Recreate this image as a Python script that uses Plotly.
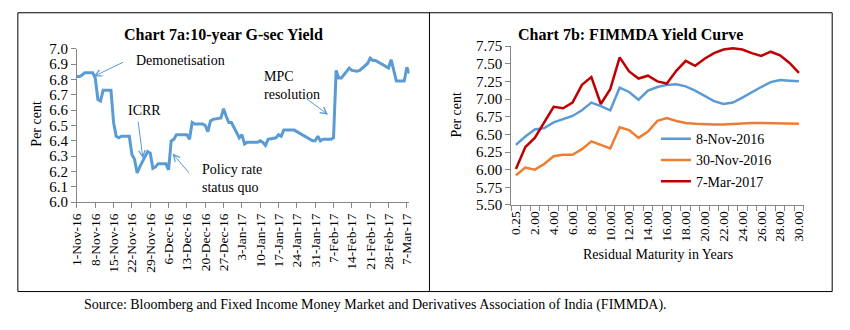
import plotly.graph_objects as go

W, H = 850, 330

# ---------------- Chart 7a data: 10-year G-sec yield (per cent) ----------------
gsec_dates = [
    "2016-11-01", "2016-11-02", "2016-11-03", "2016-11-04", "2016-11-07", "2016-11-08",
    "2016-11-09", "2016-11-10", "2016-11-11", "2016-11-14", "2016-11-15", "2016-11-16",
    "2016-11-17", "2016-11-18", "2016-11-21", "2016-11-22", "2016-11-23", "2016-11-24",
    "2016-11-25", "2016-11-28", "2016-11-29", "2016-11-30", "2016-12-01", "2016-12-02",
    "2016-12-05", "2016-12-06", "2016-12-07", "2016-12-08", "2016-12-09", "2016-12-12",
    "2016-12-13", "2016-12-14", "2016-12-15", "2016-12-16", "2016-12-19", "2016-12-20",
    "2016-12-21", "2016-12-22", "2016-12-23", "2016-12-26", "2016-12-27", "2016-12-28",
    "2016-12-29", "2016-12-30", "2017-01-02", "2017-01-03", "2017-01-04", "2017-01-05",
    "2017-01-06", "2017-01-09", "2017-01-10", "2017-01-11", "2017-01-12", "2017-01-13",
    "2017-01-16", "2017-01-17", "2017-01-18", "2017-01-19", "2017-01-20", "2017-01-23",
    "2017-01-24", "2017-01-25", "2017-01-27", "2017-01-30", "2017-01-31", "2017-02-01",
    "2017-02-02", "2017-02-03", "2017-02-06", "2017-02-07", "2017-02-08", "2017-02-09",
    "2017-02-10", "2017-02-13", "2017-02-14", "2017-02-15", "2017-02-16", "2017-02-17",
    "2017-02-20", "2017-02-21", "2017-02-22", "2017-02-23", "2017-02-27", "2017-02-28",
    "2017-03-01", "2017-03-02", "2017-03-03", "2017-03-06", "2017-03-07", "2017-03-08",
]
gsec_yield = [
    6.82, 6.82, 6.83, 6.845, 6.845, 6.81,
    6.67, 6.66, 6.73, 6.73, 6.52, 6.43,
    6.42, 6.43, 6.43, 6.31, 6.28, 6.19,
    6.23, 6.33, 6.32, 6.22, 6.23, 6.25,
    6.25, 6.21, 6.40, 6.41, 6.44, 6.44,
    6.44, 6.41, 6.52, 6.51, 6.51, 6.50,
    6.46, 6.53, 6.54, 6.55, 6.61, 6.56,
    6.52, 6.52, 6.42, 6.44, 6.38, 6.39,
    6.39, 6.39, 6.40, 6.39, 6.37, 6.41,
    6.42, 6.44, 6.43, 6.47, 6.47, 6.47,
    6.46, 6.45, 6.43, 6.40, 6.40, 6.43,
    6.40, 6.41, 6.41, 6.42, 6.86, 6.81,
    6.81, 6.875, 6.86, 6.855, 6.855, 6.86,
    6.905, 6.94, 6.925, 6.925, 6.885, 6.875,
    6.93, 6.86, 6.79, 6.79, 6.88, 6.84,
]
gsec_tick_dates = [
    "2016-11-01", "2016-11-08", "2016-11-15", "2016-11-22", "2016-11-29", "2016-12-06",
    "2016-12-13", "2016-12-20", "2016-12-27", "2017-01-03", "2017-01-10", "2017-01-17",
    "2017-01-24", "2017-01-31", "2017-02-07", "2017-02-14", "2017-02-21", "2017-02-28",
    "2017-03-07",
]
gsec_y_ticks = [6.0, 6.1, 6.2, 6.3, 6.4, 6.5, 6.6, 6.7, 6.8, 6.9, 7.0]

# ---------------- Chart 7b data: FIMMDA yield curve (per cent) ----------------
maturity_labels = ["0.25"] + ["%d.00" % m for m in range(1, 31)]
curve_names = ["8-Nov-2016", "30-Nov-2016", "7-Mar-2017"]
curve_8nov2016 = [
    6.35, 6.47, 6.57, 6.59, 6.67, 6.72, 6.76, 6.84, 6.95, 6.90, 6.84,
    7.16, 7.10, 6.99, 7.12, 7.17, 7.20, 7.21, 7.18, 7.12, 7.04,
    6.97, 6.93, 6.95, 7.02, 7.10, 7.17, 7.24, 7.27, 7.26, 7.25,
]
curve_30nov2016 = [
    5.92, 6.03, 6.00, 6.08, 6.19, 6.21, 6.21, 6.29, 6.40, 6.35, 6.30,
    6.60, 6.56, 6.45, 6.54, 6.69, 6.73, 6.69, 6.66, 6.65, 6.64,
    6.64, 6.64, 6.65, 6.65, 6.66, 6.66, 6.66, 6.66, 6.65, 6.65,
]
curve_7mar2017 = [
    6.01, 6.32, 6.45, 6.67, 6.89, 6.87, 6.95, 7.20, 7.31, 6.93, 7.14,
    7.59, 7.39, 7.29, 7.33, 7.25, 7.22, 7.40, 7.54, 7.47, 7.57,
    7.65, 7.70, 7.72, 7.70, 7.65, 7.61, 7.67, 7.62, 7.51, 7.37,
]
curve_y_ticks = [5.50, 5.75, 6.00, 6.25, 6.50, 6.75, 7.00, 7.25, 7.50, 7.75]

# ---------------- styling ----------------
FONT = "Liberation Serif"
BLUE = "#5B9BD5"
ORANGE = "#ED7D31"
RED = "#C00000"
AXIS = "#868686"


def px(x):
    return x / W


def py(y):
    return 1 - y / H


fig = go.Figure()

fig.add_trace(go.Scatter(
    x=gsec_dates, y=gsec_yield, mode="lines", xaxis="x", yaxis="y",
    line=dict(color=BLUE, width=3), showlegend=False, name="10-year G-sec",
))

idx = list(range(len(maturity_labels)))
for name, vals, col in zip(curve_names, [curve_8nov2016, curve_30nov2016, curve_7mar2017],
                           [BLUE, ORANGE, RED]):
    fig.add_trace(go.Scatter(
        x=idx, y=vals, mode="lines", xaxis="x2", yaxis="y2", name=name,
        line=dict(color=col, width=2.5),
    ))

axis_common = dict(
    showline=True, linecolor=AXIS, linewidth=1, showgrid=False, zeroline=False,
    ticks="outside", ticklen=5, tickcolor=AXIS, tickwidth=1,
)
xtick_font = dict(family=FONT, size=13.5, color="black")
ytick_font = dict(family=FONT, size=15, color="black")

fig.update_layout(
    width=W, height=H, margin=dict(l=0, r=0, t=0, b=0),
    paper_bgcolor="white", plot_bgcolor="white",
    font=dict(family=FONT, size=13, color="black"),
    xaxis=dict(
        domain=[px(70), px(407.7)], type="date",
        range=["2016-11-01", "2017-03-08"],
        tickmode="array", tickvals=gsec_tick_dates, tickformat="%-d-%b-%y",
        tickangle=-90, anchor="y", tickfont=xtick_font, **axis_common,
    ),
    yaxis=dict(
        domain=[py(204), py(43)], range=[6.0, 7.0],
        tickmode="array", tickvals=gsec_y_ticks,
        ticktext=["%.1f" % v for v in gsec_y_ticks], anchor="x",
        tickfont=ytick_font, **axis_common,
    ),
    xaxis2=dict(
        domain=[px(511), px(808)], range=[-0.5, len(maturity_labels) - 0.5],
        tickmode="array", tickvals=idx[::2], ticktext=maturity_labels[::2],
        tickangle=-90, anchor="y2", tickfont=xtick_font,
        minor=dict(tickmode="array", tickvals=[i - 0.5 for i in range(len(maturity_labels) + 1)],
                   ticks="outside", ticklen=5, tickcolor=AXIS, tickwidth=1, showgrid=False),
        **{**axis_common, "ticks": "outside", "ticklen": 0},
    ),
    yaxis2=dict(
        domain=[py(207), py(40)], range=[5.5, 7.75],
        tickmode="array", tickvals=curve_y_ticks,
        ticktext=["%.2f" % v for v in curve_y_ticks], anchor="x2",
        tickfont=ytick_font, **axis_common,
    ),
    legend=dict(
        x=px(658), y=py(121), xanchor="left", yanchor="top",
        bgcolor="rgba(0,0,0,0)", font=dict(family=FONT, size=14, color="black"),
        tracegroupgap=0, itemwidth=30,
    ),
)

annotations = []


def text_ann(x, y, text, size=14, xanchor="left", yanchor="middle", angle=0, bold=False, align="left"):
    annotations.append(dict(
        x=px(x), y=py(y), xref="paper", yref="paper", showarrow=False,
        text=("<b>%s</b>" % text) if bold else text, textangle=angle,
        xanchor=xanchor, yanchor=yanchor, align=align,
        font=dict(family=FONT, size=size, color="black"),
    ))


text_ann(219, 28, "Chart 7a:10-year G-sec Yield", size=16, xanchor="center", bold=True)
text_ann(632, 28, "Chart 7b: FIMMDA Yield Curve", size=16, xanchor="center", bold=True)
text_ann(29, 122, "Per cent", size=14, xanchor="center", angle=-90)
text_ann(456, 112, "Per cent", size=14, xanchor="center", angle=-90)
text_ann(660, 259, "Residual Maturity in Years", size=14, xanchor="center")
text_ann(75, 312, "Source: Bloomberg and Fixed Income Money Market and Derivatives Association of India (FIMMDA).",
         size=14)
text_ann(128, 55, "Demonetisation")
text_ann(120, 108, "ICRR")
text_ann(258, 62, "MPC<br>resolution", yanchor="top")
text_ann(195, 160, "Policy rate<br>status quo", yanchor="top")

# arrows (head at data point near the line, tail offset in pixels)
arrows = [
    ("2016-11-07 09:00", 6.82, 31, -15),
    ("2016-11-26 05:00", 6.286, -5, -38),
    ("2016-12-07 12:00", 6.317, 18, 21),
    ("2017-02-04 22:00", 6.571, -23, -17),
]
for ax_x, ax_y, dx, dy in arrows:
    annotations.append(dict(
        x=ax_x, y=ax_y, xref="x", yref="y", text="", showarrow=True,
        ax=dx, ay=dy, arrowhead=5, arrowsize=1.3, arrowwidth=1, arrowcolor=BLUE,
    ))

fig.update_layout(annotations=annotations)

fig.update_layout(shapes=[
    dict(type="rect", xref="paper", yref="paper", x0=px(10), x1=px(837), y0=py(298), y1=py(5),
         line=dict(color="black", width=1)),
    dict(type="line", xref="paper", yref="paper", x0=px(428), x1=px(428), y0=py(298), y1=py(5),
         line=dict(color="black", width=1)),
])

fig.write_html("out.html")
